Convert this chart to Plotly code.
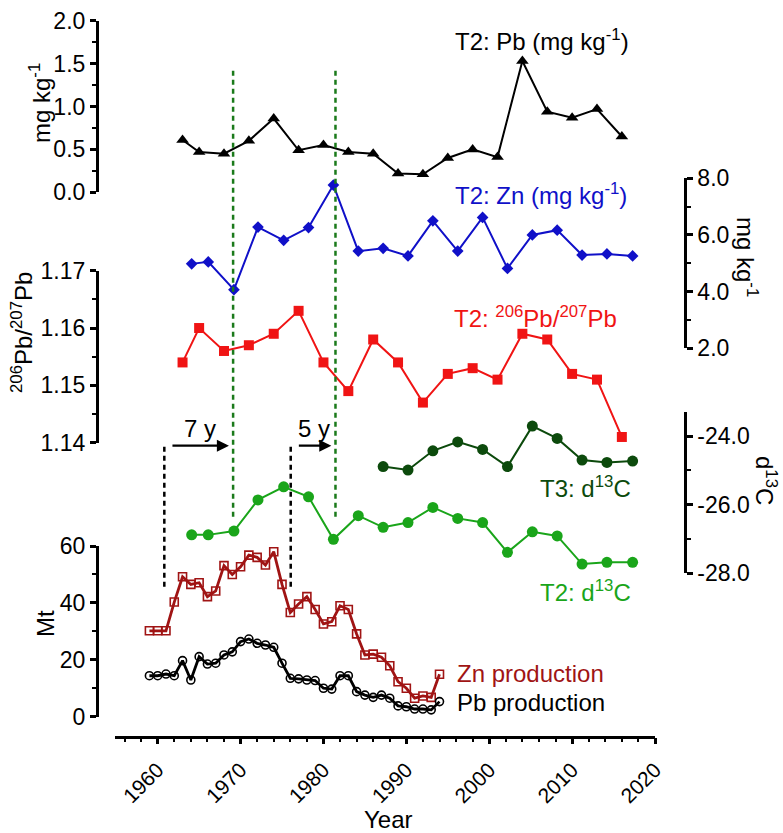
import plotly.graph_objects as go

W, H = 783, 833
FONT = "Liberation Sans, Arial, sans-serif"

# ---------------- data ----------------
pb_years = [1963, 1965, 1968, 1971, 1974, 1977, 1980, 1983, 1986, 1989,
            1992, 1995, 1998, 2001, 2004, 2007, 2010, 2013, 2016]
pb_conc = [0.61, 0.47, 0.45, 0.60, 0.86, 0.49, 0.55, 0.47, 0.45, 0.22,
           0.21, 0.40, 0.50, 0.41, 1.53, 0.94, 0.87, 0.97, 0.65]
pb_ratio = [1.154, 1.160, 1.156, 1.157, 1.159, 1.163, 1.154, 1.149, 1.158, 1.154,
            1.147, 1.152, 1.153, 1.151, 1.159, 1.158, 1.152, 1.151, 1.141]

zn_years = [1964.1, 1966.1, 1969.2, 1972.1, 1975.2, 1978.2, 1981.2, 1984.2, 1987.2, 1990.2,
            1993.2, 1996.2, 1999.2, 2002.2, 2005.2, 2008.2, 2011.2, 2014.2, 2017.3]
zn_conc = [4.98, 5.05, 4.07, 6.28, 5.81, 6.26, 7.76, 5.43, 5.53, 5.26,
           6.50, 5.43, 6.62, 4.82, 6.00, 6.17, 5.29, 5.33, 5.26]
t2_d13c = [-26.88, -26.88, -26.77, -25.86, -25.48, -25.77, -27.01, -26.32, -26.66, -26.52,
           -26.08, -26.40, -26.52, -27.39, -26.79, -26.91, -27.73, -27.68, -27.68]

t3_years = [1987.2, 1990.2, 1993.2, 1996.2, 1999.2, 2002.2, 2005.2, 2008.2, 2011.2, 2014.2, 2017.3]
t3_d13c = [-24.89, -24.99, -24.43, -24.17, -24.39, -24.89, -23.71, -24.07, -24.70, -24.77, -24.73]

prod_years = [1959, 1960, 1961, 1962, 1963, 1964, 1965, 1966, 1967, 1968, 1969, 1970,
              1971, 1972, 1973, 1974, 1975, 1976, 1977, 1978, 1979, 1980, 1981, 1982,
              1983, 1984, 1985, 1986, 1987, 1988, 1989, 1990, 1991, 1992, 1993, 1994]
zn_prod = [30.2, 30.2, 30.2, 40.3, 49.2, 46.5, 47.1, 42.2, 44.2, 53.1, 50.0, 52.7,
           56.8, 56.0, 53.3, 58.0, 46.5, 36.6, 39.6, 42.2, 37.7, 32.6, 33.4, 39.0,
           37.7, 29.1, 21.7, 22.0, 20.9, 17.9, 12.3, 10.0, 6.5, 7.3, 6.8, 14.9]
pb_prod = [14.4, 14.4, 15.0, 14.4, 19.7, 12.9, 21.1, 18.5, 18.8, 21.7, 22.8, 26.4,
           27.3, 25.8, 25.2, 24.4, 18.8, 13.5, 13.3, 12.9, 12.7, 10.0, 9.7, 14.4,
           14.4, 8.8, 7.6, 6.8, 7.6, 6.5, 3.8, 3.5, 2.7, 2.7, 2.4, 5.3]

# d13C axis ticks (hyphen-minus as in the original)
d13c_tickvals = [-28, -26, -24]
d13c_ticktext = ["-28.0", "-26.0", "-24.0"]

# event markers (years)
prod_peak_years = [1960.8, 1976.05]       # black dashed
response_years = [1969.1, 1981.45]        # green dashed
lag_labels = ["7 y", "5 y"]

# ---------------- helpers ----------------
def fx(p):
    return p / W


def fy(p):
    return 1 - p / H


C_PB = "#000000"
C_ZN = "#1010c8"
C_RATIO = "#f01414"
C_T3 = "#0c4a0c"
C_T2 = "#1aa51a"
C_ZNP = "#a01414"
C_GDASH = "#1b7a1b"
FS = 24
TFS = 23

fig = go.Figure()

fig.add_trace(go.Scatter(x=pb_years, y=pb_conc, yaxis="y", mode="lines+markers",
                         line=dict(color=C_PB, width=2),
                         marker=dict(symbol="triangle-up", size=11, color=C_PB),
                         cliponaxis=False))
fig.add_trace(go.Scatter(x=zn_years, y=zn_conc, yaxis="y2", mode="lines+markers",
                         line=dict(color=C_ZN, width=2),
                         marker=dict(symbol="diamond", size=9, color=C_ZN),
                         cliponaxis=False))
fig.add_trace(go.Scatter(x=pb_years, y=pb_ratio, yaxis="y3", mode="lines+markers",
                         line=dict(color=C_RATIO, width=2),
                         marker=dict(symbol="square", size=10, color=C_RATIO),
                         cliponaxis=False))
fig.add_trace(go.Scatter(x=t3_years, y=t3_d13c, yaxis="y4", mode="lines+markers",
                         line=dict(color=C_T3, width=2),
                         marker=dict(symbol="circle", size=11, color=C_T3),
                         cliponaxis=False))
fig.add_trace(go.Scatter(x=zn_years, y=t2_d13c, yaxis="y4", mode="lines+markers",
                         line=dict(color=C_T2, width=2),
                         marker=dict(symbol="circle", size=11, color=C_T2),
                         cliponaxis=False))
fig.add_trace(go.Scatter(x=prod_years, y=zn_prod, yaxis="y5", mode="lines+markers",
                         line=dict(color=C_ZNP, width=2.8),
                         marker=dict(symbol="square-open", size=8, color=C_ZNP,
                                     line=dict(width=1.6, color=C_ZNP)),
                         cliponaxis=False))
fig.add_trace(go.Scatter(x=prod_years, y=pb_prod, yaxis="y5", mode="lines+markers",
                         line=dict(color=C_PB, width=2.8),
                         marker=dict(symbol="circle-open", size=8, color=C_PB,
                                     line=dict(width=1.6, color=C_PB)),
                         cliponaxis=False))

tickfont = dict(family=FONT, size=TFS, color="black")
common = dict(showline=True, linecolor="black", linewidth=2.5, ticks="outside",
              ticklen=6, tickwidth=2.5, tickcolor="black", showgrid=False,
              zeroline=False, tickfont=tickfont, anchor="free", automargin=False)


def minor(dt, t0=None):
    d = dict(ticks="outside", ticklen=4, tickwidth=2, tickcolor="black",
             dtick=dt, showgrid=False)
    if t0 is not None:
        d["tick0"] = t0
    return d


left_pos = fx(96.7)
right_pos = fx(685)

fig.update_layout(
    width=W, height=H,
    margin=dict(l=0, r=0, t=0, b=0),
    paper_bgcolor="white", plot_bgcolor="rgba(0,0,0,0)",
    showlegend=False,
    font=dict(family=FONT, size=FS, color="black"),
    xaxis=dict(domain=[fx(115), fx(655)], range=[1954.85, 2020], anchor="free",
               position=fy(736.7), showline=True, linecolor="black", linewidth=2.5,
               ticks="outside", ticklen=6, tickwidth=2.5, tickcolor="black",
               tick0=1960, dtick=10, tickangle=-45,
               tickfont=dict(family=FONT, size=21, color="black"),
               ticklabelstandoff=5,
               showgrid=False, zeroline=False, automargin=False,
               minor=minor(2, 1960)),
    yaxis=dict(domain=[fy(192.3), fy(20.7)], range=[0, 2.0], position=left_pos,
               dtick=0.5, tickformat=".1f", minor=minor(0.25), **common),
    yaxis2=dict(domain=[fy(348.3), fy(178.3)], range=[2, 8], position=right_pos,
                side="right", dtick=2, tickformat=".1f", minor=minor(1), **common),
    yaxis3=dict(domain=[fy(442.7), fy(270.7)], range=[1.14, 1.17], position=left_pos,
                dtick=0.01, tickformat=".2f", minor=minor(0.005), **common),
    yaxis4=dict(domain=[fy(573.3), fy(411.7)], range=[-28, -23.29], position=right_pos,
                side="right", tickmode="array", tickvals=d13c_tickvals,
                ticktext=d13c_ticktext, minor=minor(1, -28), **common),
    yaxis5=dict(domain=[fy(716.7), fy(546)], range=[0, 60], position=left_pos,
                dtick=20, minor=minor(10), **common),
)

# dashed event lines
shapes = []
for yr in prod_peak_years:
    shapes.append(dict(type="line", xref="x", yref="paper", x0=yr, x1=yr,
                       y0=fy(586.7), y1=fy(443.3),
                       line=dict(color="black", width=2.5, dash="5px,4px")))
for yr in response_years:
    shapes.append(dict(type="line", xref="x", yref="paper", x0=yr, x1=yr,
                       y0=fy(516.7), y1=fy(70.7),
                       line=dict(color=C_GDASH, width=2.5, dash="5px,4px")))
fig.update_layout(shapes=shapes)

ann = []
# lag arrows
for start, end, lab in zip(prod_peak_years, response_years, lag_labels):
    tail = start + 0.8
    tip = end - 0.5
    ann.append(dict(x=tip, y=fy(445.7), xref="x", yref="paper", ax=tail, ay=0,
                    axref="x", ayref="pixel", showarrow=True, arrowhead=2,
                    arrowsize=1.1, arrowwidth=2.2, arrowcolor="black", text=""))
    ann.append(dict(x=(tail + tip) / 2, y=fy(428), xref="x", yref="paper",
                    text=lab, showarrow=False, font=dict(size=FS, color="black"),
                    xanchor="center", yanchor="middle"))


def label(text, x, y, color, xanchor="center", size=FS, angle=0):
    ann.append(dict(x=fx(x), y=fy(y), xref="paper", yref="paper", text=text,
                    showarrow=False, xanchor=xanchor, yanchor="middle",
                    textangle=angle, font=dict(family=FONT, size=size, color=color)))


# series labels
label("T2: Pb (mg kg<sup>-1</sup>)", 541.7, 40, C_PB)
label("T2: Zn (mg kg<sup>-1</sup>)", 540.8, 194, C_ZN)
label("T2: <sup>206</sup>Pb/<sup>207</sup>Pb", 535.5, 317, C_RATIO)
label("T3: d<sup>13</sup>C", 633, 487, C_T3, xanchor="right")
label("T2: d<sup>13</sup>C", 633, 591, C_T2, xanchor="right")
label("Zn production", 455, 673, C_ZNP, xanchor="left")
label("Pb production", 455, 702, C_PB, xanchor="left")

# axis titles
label("mg kg<sup>-1</sup>", 40, 103, "black", angle=-90)
label("<sup>206</sup>Pb/<sup>207</sup>Pb", 22, 333, "black", angle=-90)
label("Mt", 45, 624, "black", angle=-90)
label("Year", 388, 819.5, "black")
label("mg kg<sup>-1</sup>", 747, 257, "black", angle=90)
label("d<sup>13</sup>C", 766, 480, "black", angle=90)

fig.update_layout(annotations=ann)

fig.write_html("out.html")
